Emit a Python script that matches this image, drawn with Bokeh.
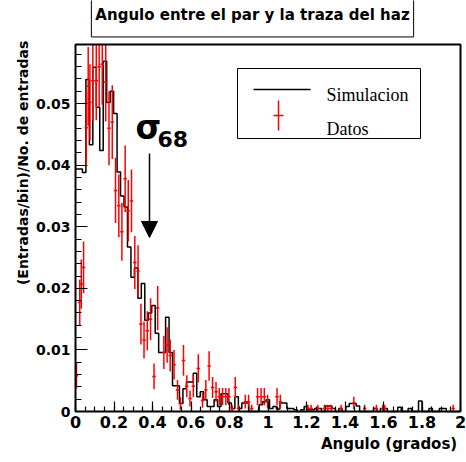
import numpy as np
from bokeh.plotting import figure
from bokeh.models import Range1d, FixedTicker, Label, Arrow, NormalHead, BoxAnnotation, ColumnDataSource
from bokeh.embed import file_html
from bokeh.resources import INLINE

# ---------------- data ----------------
bin_width = 0.018
sim_values = [
    0.0394, 0.0394, 0.0388, 0.0539, 0.0433, 0.0559, 0.0494, 0.0424, 0.0569, 0.0502,
    0.0520, 0.0484, 0.0389, 0.0350, 0.0332, 0.0267, 0.0218, 0.0233, 0.0184, 0.0208,
    0.0148, 0.0160, 0.0172, 0.0127, 0.0096, 0.0096, 0.0153, 0.0096, 0.0042, 0.0042,
    0.0013, 0.0037, 0.0048, 0.0048, 0.0062, 0.0024, 0.0032, 0.0019, 0.0008, 0.0008,
    0.0019, 0.0008, 0.0029, 0.0029, 0.0014, 0.0005, 0.0024, 0.0005, 0.0014, 0.0014,
    0.0, 0.0, 0.0, 0.0011, 0.0016, 0.0019, 0.0005, 0.0008, 0.0004, 0.0014,
    0.0014, 0.0005, 0.0005, 0.0003, 0.0, 0.0003, 0.0008, 0.0003, 0.0003, 0.0005,
    0.0005, 0.0, 0.0009, 0.0009, 0.0005, 0.0, 0.0005, 0.0, 0.0008, 0.0013,
    0.0013, 0.0009, 0.0, 0.0, 0.0, 0.0, 0.0005, 0.0, 0.0005, 0.0005,
    0.0, 0.0, 0.0, 0.0007, 0.0, 0.0, 0.0005, 0.0, 0.0, 0.0017,
    0.0, 0.0, 0.0005, 0.0, 0.0, 0.0005, 0.0005, 0.0, 0.0, 0.0, 0.0,
]

data_x = [0.005, 0.022, 0.030, 0.042, 0.056, 0.066, 0.075, 0.090, 0.108, 0.123,
          0.139, 0.157, 0.174, 0.191, 0.208, 0.225, 0.241, 0.258, 0.274, 0.291,
          0.308, 0.325, 0.340, 0.356, 0.373, 0.390, 0.408, 0.427, 0.459, 0.476,
          0.492, 0.512, 0.530, 0.545, 0.561, 0.578, 0.595, 0.612, 0.638, 0.660,
          0.677, 0.694, 0.712, 0.730, 0.747, 0.764, 0.781, 0.797, 0.814, 0.830,
          0.847, 0.882, 0.899, 0.915, 0.946, 0.964, 0.981, 0.998, 1.047, 1.064,
          1.207, 1.224, 1.259, 1.293, 1.311, 1.328, 1.380, 1.446, 1.502, 1.563,
          1.597, 1.606, 1.962]
data_y = [0.0058, 0.0177, 0.0207, 0.0234, 0.0461, 0.0528, 0.0502, 0.0537, 0.0537, 0.0560,
          0.0564, 0.0535, 0.0460, 0.0470, 0.0359, 0.0334, 0.0292, 0.0378, 0.0326, 0.0342,
          0.0242, 0.0228, 0.0142, 0.0116, 0.0131, 0.0150, 0.0057, 0.0168, 0.0096, 0.0108,
          0.0091, 0.0076, 0.0035, 0.0013, 0.0083, 0.0041, 0.0021, 0.0041, 0.0070, 0.0018,
          0.0035, 0.0074, 0.0039, 0.0032, 0.0024, 0.0024, 0.0024, 0.0024, 0.0004, 0.0039,
          0.0005, 0.0016, 0.0016, 0.0005, 0.0024, 0.0024, 0.0024, 0.0016, 0.0024, 0.0016,
          0.0005, 0.0005, 0.0005, 0.0005, 0.0005, 0.0005, 0.0005, 0.0014, 0.0005, 0.0005,
          0.0005, 0.0005, 0.0005]
data_err = [0.0021, 0.0037, 0.0040, 0.0042, 0.0060, 0.0064, 0.0062, 0.0064, 0.0064, 0.0066,
            0.0066, 0.0064, 0.0060, 0.0060, 0.0053, 0.0051, 0.0047, 0.0054, 0.0050, 0.0051,
            0.0043, 0.0042, 0.0033, 0.0030, 0.0032, 0.0034, 0.0021, 0.0036, 0.0027, 0.0029,
            0.0026, 0.0024, 0.0016, 0.0010, 0.0025, 0.0018, 0.0013, 0.0018, 0.0023, 0.0012,
            0.0016, 0.0024, 0.0017, 0.0016, 0.0014, 0.0014, 0.0014, 0.0014, 0.0006, 0.0017,
            0.0006, 0.0011, 0.0011, 0.0006, 0.0014, 0.0014, 0.0014, 0.0011, 0.0014, 0.0011,
            0.0006, 0.0006, 0.0006, 0.0006, 0.0006, 0.0006, 0.0006, 0.0010, 0.0006, 0.0006,
            0.0006, 0.0006, 0.0006]

x_tick_labels = ["0", "0.2", "0.4", "0.6", "0.8", "1", "1.2", "1.4", "1.6", "1.8", "2"]
y_tick_labels = ["0", "0.01", "0.02", "0.03", "0.04", "0.05"]

x_min, x_max = 0.0, 2.0        # ROOT frame range
y_min, y_max = 0.0, 0.0596

sigma68 = 0.3844               # position of the sigma_68 arrow
arrow_from, arrow_to = 0.0419, 0.02826

title_text = "Angulo entre el par y la traza del haz"
y_title = "(Entradas/bin)/No. de entradas"
x_title = "Angulo (grados)"
legend_labels = ["Simulacion", "Datos"]

# ---------------- figure ----------------
# The plotting frame covers the whole canvas; the ROOT frame is drawn as a box
W, H = 466, 462
FL, FR, FT, FB = 75, 460, 44, 411           # ROOT frame in canvas pixels
sx = (FR - FL) / (x_max - x_min)
sy = (FB - FT) / (y_max - y_min)
xr = Range1d(x_min - FL / sx, x_max + (W - FR) / sx)
yr = Range1d(y_min - (H - FB) / sy, y_max + FT / sy)

FONT = "DejaVu Sans"
p = figure(width=W, height=H, title=None, x_range=xr, y_range=yr,
           output_backend="svg", toolbar_location=None,
           min_border_left=0, min_border_right=0, min_border_top=0, min_border_bottom=0)
p.background_fill_color = "white"
p.border_fill_color = "white"
p.outline_line_color = None
p.xgrid.visible = False
p.ygrid.visible = False


def tick_val(s):
    return int(s) if s.isdigit() else float(s)


x_ticks = [tick_val(s) for s in x_tick_labels]
y_ticks = [tick_val(s) for s in y_tick_labels]
x_minor = [round(v, 3) for v in np.arange(0, 2.0001, 0.05)]
y_minor = [round(v, 4) for v in np.arange(0, 0.0595, 0.002)]

p.xaxis.ticker = FixedTicker(ticks=x_ticks, minor_ticks=x_minor)
p.yaxis.ticker = FixedTicker(ticks=y_ticks, minor_ticks=y_minor)
p.xaxis.major_label_overrides = {tick_val(s): s for s in x_tick_labels}
p.yaxis.major_label_overrides = {tick_val(s): s for s in y_tick_labels}
p.xaxis.fixed_location = y_min
p.yaxis.fixed_location = x_min

for ax in (p.xaxis, p.yaxis):
    ax.axis_line_color = None
    ax.major_tick_out = 0
    ax.minor_tick_out = 0
    ax.major_tick_line_color = "black"
    ax.minor_tick_line_color = "black"
    ax.major_tick_line_width = 1.2
    ax.minor_tick_line_width = 1.2
    ax.major_label_text_font = FONT
    ax.major_label_text_font_style = "bold"
    ax.major_label_text_color = "black"

p.xaxis.major_tick_in = 10
p.xaxis.minor_tick_in = 5
p.yaxis.major_tick_in = 12
p.yaxis.minor_tick_in = 6
p.xaxis.major_label_text_font_size = "16px"
p.yaxis.major_label_text_font_size = "14px"
p.xaxis.major_label_standoff = 4
p.yaxis.major_label_standoff = 5

# ROOT frame
p.add_layout(BoxAnnotation(left=x_min, right=x_max, bottom=y_min, top=y_max,
                           fill_alpha=0, line_color="black", line_alpha=1, line_width=2))

# ---------------- histogram (simulation) ----------------
edges = bin_width * np.arange(len(sim_values) + 1)
step_y = list(sim_values) + [sim_values[-1]]
p.step(edges, step_y, mode="after", line_color="black", line_width=1.5)

# ---------------- data with error bars (clipped to the frame) ----------------
dx = np.array(data_x)
dy = np.array(data_y)
de = np.array(data_err)
src = ColumnDataSource(dict(x=dx, y=dy,
                            lo=np.maximum(dy - de, y_min), hi=np.minimum(dy + de, y_max),
                            xl=np.maximum(dx - bin_width / 2, x_min),
                            xr=np.minimum(dx + bin_width / 2, x_max)))
p.segment("x", "lo", "x", "hi", source=src, line_color="#ff0000", line_width=1.5)
p.segment("xl", "y", "xr", "y", source=src, line_color="#ff0000", line_width=1.5)

# ---------------- legend (ROOT style) ----------------
p.add_layout(BoxAnnotation(left=0.8416, right=1.7922, top=0.0557, bottom=0.04433,
                           fill_color="white", fill_alpha=1, line_color="black",
                           line_alpha=1, line_width=1, level="underlay"))
p.line([0.9247, 1.2208], [0.05229, 0.05229], line_color="black", line_width=1.5)
p.segment([1.0545, 1.0286], [0.04563, 0.04807], [1.0545, 1.0805], [0.05051, 0.04807],
          line_color="#ff0000", line_width=1.5)
p.add_layout(Label(x=1.3039, y=0.05132, text=legend_labels[0], text_font="Liberation Serif",
                   text_font_size="18px", text_color="black",
                   text_baseline="alphabetic", text_align="left"))
p.add_layout(Label(x=1.3039, y=0.04580, text=legend_labels[1], text_font="Liberation Serif",
                   text_font_size="18px", text_color="black",
                   text_baseline="alphabetic", text_align="left"))

# ---------------- sigma_68 annotation ----------------
p.add_layout(Arrow(end=NormalHead(size=16, fill_color="black", line_color="black"),
                   x_start=sigma68, y_start=arrow_from, x_end=sigma68, y_end=arrow_to,
                   line_color="black", line_width=1.5))
p.add_layout(Label(x=0.3117, y=0.0461, text="σ", text_font=FONT, text_font_style="bold",
                   text_font_size="33px", text_color="black",
                   text_baseline="alphabetic", text_align="left"))
p.add_layout(Label(x=0.426, y=0.04433, text="68", text_font=FONT, text_font_style="bold",
                   text_font_size="22px", text_color="black",
                   text_baseline="alphabetic", text_align="left"))

# ---------------- titles ----------------
common = dict(x=0.9195, y=0.06440, text=title_text, text_font=FONT, text_font_style="bold",
              text_font_size="15px", text_align="center", text_baseline="middle",
              padding=(4, 13))
p.add_layout(Label(x_offset=3, y_offset=-3, text_alpha=0, background_fill_color="black",
                   background_fill_alpha=1, **common))
p.add_layout(Label(background_fill_color="white", background_fill_alpha=1, text_color="black",
                   border_line_color="black", border_line_width=1, **common))

p.add_layout(Label(x=-0.2753, y=0.04038, text=y_title, angle=np.pi / 2, text_font=FONT,
                   text_font_style="bold", text_font_size="14px", text_color="black",
                   text_align="center", text_baseline="middle"))
p.add_layout(Label(x=1.9829, y=-0.00528, text=x_title, text_font=FONT,
                   text_font_style="bold", text_font_size="15px", text_color="black",
                   text_align="right", text_baseline="alphabetic"))

open("out.html", "w").write(file_html(p, INLINE))
